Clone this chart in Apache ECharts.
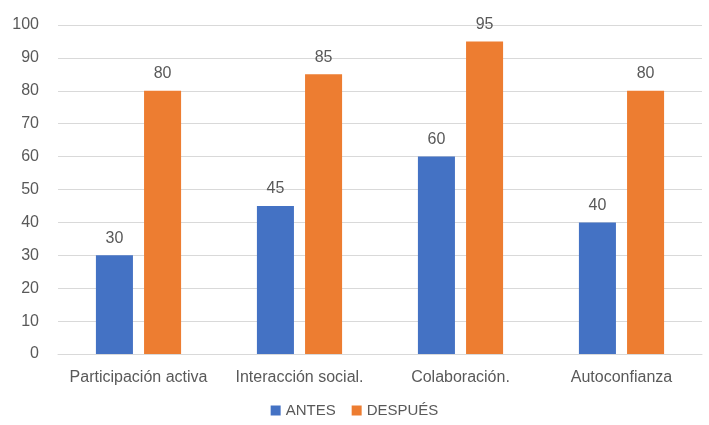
<!DOCTYPE html>
<html>
<head>
<meta charset="utf-8">
<script src="https://cdn.jsdelivr.net/npm/echarts@6/dist/echarts.min.js"></script>
<style>
  html, body { margin: 0; padding: 0; background: #fff; }
  #chart { width: 709px; height: 425px; }
</style>
</head>
<body>
<div id="chart"></div>
<script>
const categories = ['Participación activa', 'Interacción social.', 'Colaboración.', 'Autoconfianza'];
const antes = [30, 45, 60, 40];
const despues = [80, 85, 95, 80];
const yTicks = { min: 0, max: 100, interval: 10 };

const TEXT = '#595959';
const FONT = 'Liberation Sans';

const chart = echarts.init(document.getElementById('chart'));
chart.setOption({
  animation: false,
  textStyle: { fontFamily: FONT },
  grid: { left: 58, right: 7, top: 25, bottom: 71 },
  legend: {
    bottom: 2,
    left: 'center',
    itemWidth: 10,
    itemHeight: 10,
    itemGap: 16,
    icon: 'rect',
    textStyle: { color: TEXT, fontSize: 15, fontFamily: FONT },
    data: ['ANTES', 'DESPUÉS']
  },
  xAxis: {
    type: 'category',
    data: categories,
    axisTick: { show: false },
    axisLine: { lineStyle: { color: '#d9d9d9' } },
    axisLabel: { color: TEXT, fontSize: 16, margin: 16, interval: 0 }
  },
  yAxis: {
    type: 'value',
    min: yTicks.min,
    max: yTicks.max,
    interval: yTicks.interval,
    axisLine: { show: false },
    axisTick: { show: false },
    splitLine: { lineStyle: { color: '#d9d9d9' } },
    axisLabel: { color: TEXT, fontSize: 16, margin: 19 }
  },
  series: [
    {
      name: 'ANTES',
      type: 'bar',
      data: antes,
      barWidth: '23%',
      barGap: '30%',
      itemStyle: { color: '#4472C4' },
      label: { show: true, position: 'top', color: TEXT, fontSize: 16, distance: 9 }
    },
    {
      name: 'DESPUÉS',
      type: 'bar',
      data: despues,
      barWidth: '23%',
      itemStyle: { color: '#ED7D31' },
      label: { show: true, position: 'top', color: TEXT, fontSize: 16, distance: 9 }
    }
  ]
});
</script>
</body>
</html>
